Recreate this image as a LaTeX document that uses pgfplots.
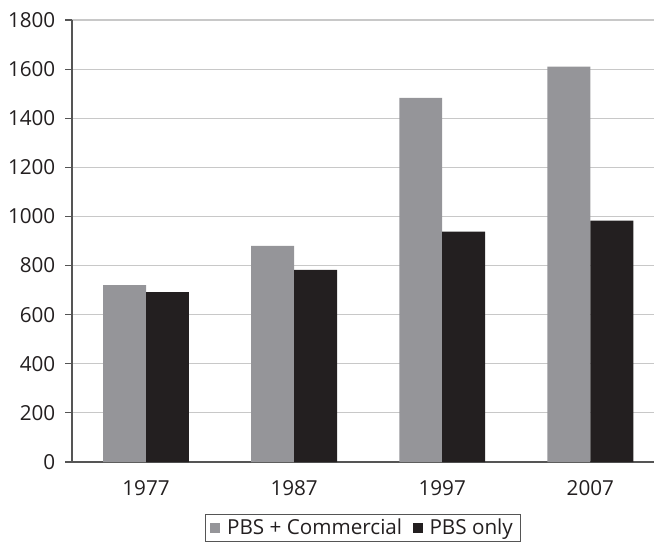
\documentclass[border=0pt]{standalone}
\usepackage{pgfplots}
\pgfplotsset{compat=1.18}
\usepackage{fontspec}
\setmainfont{Open Sans}
\definecolor{bargray}{HTML}{959599}
\definecolor{barblack}{HTML}{231F20}
\definecolor{gridc}{HTML}{C8C8C8}
\definecolor{axc}{HTML}{555555}
\begin{document}
\begin{tikzpicture}[x=1pt,y=1pt]
\path[use as bounding box] (-54,-61.5) rectangle (436.5,346.5);
\begin{axis}[
  at={(0,0)}, anchor=south west,
  width=436.5pt, height=331.5pt, scale only axis,
  xmin=-0.5, xmax=3.43, ymin=0, ymax=1800,
  ybar=0pt, bar width=0.29,
  axis x line*=bottom, axis y line*=left,
  axis line style={axc, line width=0.9pt, -},
  ytick={0,200,...,1800},
  ymajorgrids, grid style={gridc, line width=0.8pt},
  ytick style={axc, line width=0.8pt},
  tick align=outside, major tick length=5pt,
  xtick={0,1,2,3}, xticklabels={1977,1987,1997,2007},
  xtick style={draw=none},
  extra x ticks={-0.5,0.5,1.5,2.5}, extra x tick labels={},
  extra x tick style={tick style={axc, line width=0.8pt}, major tick length=5pt, grid=none},
  tick label style={font=\fontsize{15.5}{18}\selectfont, text=barblack},
  /pgf/number format/assume math mode=true,
  /pgf/number format/1000 sep={},
  yticklabel style={xshift=-4pt},
  xticklabel style={yshift=-5pt},
  legend style={at={(0.5,-0.149)}, anchor=center, draw=axc, line width=0.8pt,
    font=\fontsize{15.5}{18}\selectfont, text=barblack, legend columns=2,
    inner xsep=4pt, inner ysep=1.5pt,
    /tikz/every even column/.append style={column sep=6pt}},
  legend image code/.code={\fill[#1] (0pt,-3.8pt) rectangle (7.5pt,3.8pt);},
  clip=false,
]
\addplot[fill=bargray, draw=none] coordinates {(0,720) (1,880) (2,1483) (3,1610)};
\addplot[fill=barblack, draw=none] coordinates {(0,692) (1,782) (2,938) (3,983)};
\legend{\hspace{3pt}PBS + Commercial, \hspace{3pt}PBS only}
\end{axis}
\end{tikzpicture}
\end{document}
